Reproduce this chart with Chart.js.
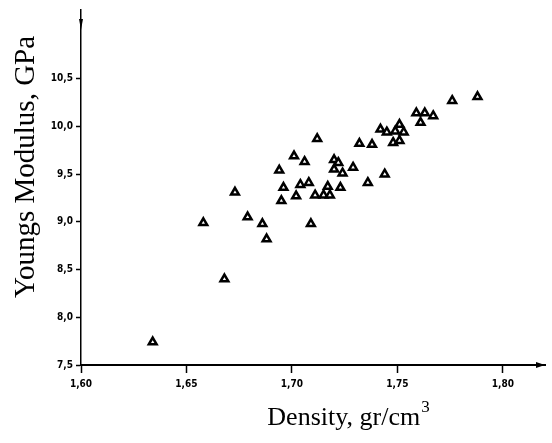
<!DOCTYPE html>
<html>
<head>
<meta charset="utf-8">
<script src="https://cdn.jsdelivr.net/npm/chart.js@4.4.1/dist/chart.umd.min.js"></script>
<style>
  html, body { margin: 0; padding: 0; background: #fff; }
</style>
</head>
<body>
<canvas id="chart" width="552" height="443"></canvas>
<script>
// values
const density = [
  1.634, 1.658, 1.668, 1.673, 1.679, 1.686, 1.688,
  1.694, 1.695, 1.696, 1.701, 1.702, 1.704, 1.706,
  1.708, 1.709, 1.711, 1.712, 1.715, 1.717, 1.718,
  1.720, 1.720, 1.722, 1.723, 1.724, 1.729, 1.732,
  1.736, 1.738, 1.742, 1.744, 1.745, 1.748, 1.749,
  1.751, 1.751, 1.753, 1.759, 1.761, 1.763, 1.767,
  1.776, 1.788
]
const modulus = [
  7.74, 8.99, 8.40, 9.31, 9.05, 8.98, 8.82,
  9.54, 9.22, 9.36, 9.69, 9.27, 9.39, 9.63,
  9.41, 8.98, 9.28, 9.87, 9.28, 9.37, 9.28,
  9.65, 9.55, 9.62, 9.36, 9.51, 9.57, 9.82,
  9.41, 9.81, 9.97, 9.50, 9.94, 9.83, 9.95,
  10.02, 9.85, 9.94, 10.14, 10.04, 10.14, 10.11,
  10.27, 10.31
]

const xTicks      = [1.60, 1.65, 1.70, 1.75, 1.80]
const xTickLabels = ['1,60', '1,65', '1,70', '1,75', '1,80']
const yTicks      = [7.5, 8.0, 8.5, 9.0, 9.5, 10.0, 10.5]
const yTickLabels = ['7,5', '8,0', '8,5', '9,0', '9,5', '10,0', '10,5']

const xTitle = 'Density, gr/cm'
const xTitleSup = '3'
const yTitle = 'Youngs Modulus, GPa'

const tickFont = { family: '"DejaVu Sans Condensed", "DejaVu Sans"', size: 10, weight: 'bold' }

// axis titles + arrow heads, placed like the scan
const decor = {
  id: 'decor',
  afterDraw(chart) {
    const { ctx, chartArea: a } = chart
    ctx.save()
    ctx.fillStyle = '#000'

    ctx.beginPath()
    ctx.moveTo(a.right, a.bottom)
    ctx.lineTo(a.right - 9, a.bottom - 3)
    ctx.lineTo(a.right - 9, a.bottom + 3)
    ctx.closePath()
    ctx.fill()

    ctx.beginPath()
    ctx.moveTo(a.left, a.top + 20)
    ctx.lineTo(a.left - 2, a.top + 9)
    ctx.lineTo(a.left + 2, a.top + 9)
    ctx.closePath()
    ctx.fill()

    ctx.font = '26px "Liberation Serif"'
    ctx.textBaseline = 'alphabetic'
    const w = ctx.measureText(xTitle).width
    ctx.font = '17px "Liberation Serif"'
    const ws = ctx.measureText(xTitleSup).width
    const x0 = 348 - (w + ws) / 2
    ctx.font = '26px "Liberation Serif"'
    ctx.textAlign = 'left'
    ctx.fillText(xTitle, x0, 425)
    ctx.font = '17px "Liberation Serif"'
    ctx.fillText(xTitleSup, x0 + w + 1, 412)

    ctx.translate(34, 167)
    ctx.rotate(-Math.PI / 2)
    ctx.textAlign = 'center'
    ctx.font = '29px "Liberation Serif"'
    ctx.fillText(yTitle, 0, 0)
    ctx.restore()
  }
}

new Chart(document.getElementById('chart'), {
  type: 'scatter',
  data: {
    datasets: [{
      data: density.map((d, i) => ({ x: d, y: modulus[i] })),
      pointStyle: 'triangle',
      pointRadius: 4.5,
      pointBorderWidth: 2.5,
      borderColor: '#000',
      backgroundColor: '#fff'
    }]
  },
  options: {
    responsive: false,
    animation: false,
    devicePixelRatio: 1,
    layout: { padding: { top: 10, right: 0, left: 0, bottom: 0 } },
    plugins: { legend: { display: false }, tooltip: { enabled: false } },
    scales: {
      x: {
        type: 'linear',
        min: 1.60,
        max: 1.82,
        afterBuildTicks: s => { s.ticks = xTicks.map(v => ({ value: v })) },
        afterFit: s => { s.height = 78 },
        ticks: {
          color: '#000',
          font: tickFont,
          padding: 5,
          maxRotation: 0,
          callback: (v) => xTickLabels[xTicks.indexOf(v)]
        },
        grid: { drawOnChartArea: false, drawTicks: true, tickLength: 8, color: '#000', tickWidth: 1.5 },
        border: { color: '#000', width: 2 }
      },
      y: {
        type: 'linear',
        min: 7.5,
        max: 11.22,
        afterBuildTicks: s => { s.ticks = yTicks.map(v => ({ value: v })) },
        afterFit: s => { s.width = 81 },
        ticks: {
          color: '#000',
          font: tickFont,
          padding: 3,
          callback: (v) => yTickLabels[yTicks.indexOf(v)]
        },
        grid: { drawOnChartArea: false, drawTicks: true, tickLength: 5, color: '#000', tickWidth: 1.5 },
        border: { color: '#000', width: 1.5, dash: [7, 2] }
      }
    }
  },
  plugins: [decor]
})
</script>
</body>
</html>
